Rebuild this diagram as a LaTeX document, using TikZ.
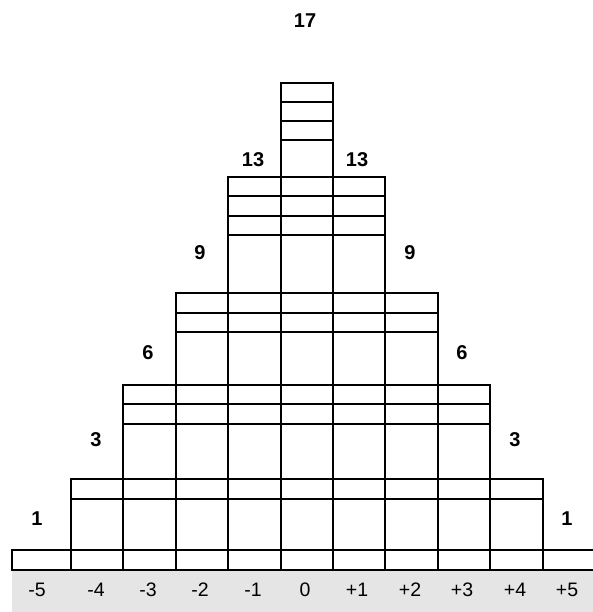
\documentclass[tikz,border=0pt]{standalone}
\usepackage{fontspec}
\setmainfont{Liberation Sans}
\begin{document}
\begin{tikzpicture}[x=1pt,y=-1pt,
  grid/.style={draw=black,line width=2.2pt},
  axislbl/.style={font=\fontsize{19.5}{22}\selectfont,inner sep=0pt,anchor=center},
  cnt/.style={font=\fontsize{20}{23}\selectfont\bfseries,inner sep=0pt,anchor=center}]
\useasboundingbox (0,0) rectangle (593,612);
% gray axis band
\fill[gray!20] (12,570) rectangle (600,612);
% bottom strip
\draw[grid] (12,550) rectangle (600,570);
\foreach \x in {70.7,123,176,228,280.6,333,385,437.6,490,542.7}
  \draw[grid] (\x,550) -- (\x,570);
% level 1
\draw[grid] (70.7,479) rectangle (542.7,550);
\draw[grid] (70.7,499) -- (542.7,499);
\foreach \x in {123,176,228,280.6,333,385,437.6,490}
  \draw[grid] (\x,479) -- (\x,550);
% level 2
\draw[grid] (123,385) rectangle (490,479);
\foreach \y in {404,424} \draw[grid] (123,\y) -- (490,\y);
\foreach \x in {176,228,280.6,333,385,437.6}
  \draw[grid] (\x,385) -- (\x,479);
% level 3
\draw[grid] (176,293) rectangle (437.6,385);
\foreach \y in {313,332} \draw[grid] (176,\y) -- (437.6,\y);
\foreach \x in {228,280.6,333,385}
  \draw[grid] (\x,293) -- (\x,385);
% level 4
\draw[grid] (228,176.7) rectangle (385,293);
\foreach \y in {196,215.7,235} \draw[grid] (228,\y) -- (385,\y);
\foreach \x in {280.6,333}
  \draw[grid] (\x,176.7) -- (\x,293);
% level 5
\draw[grid] (280.6,82.7) rectangle (333,176.7);
\foreach \y in {101.7,121,140} \draw[grid] (280.6,\y) -- (333,\y);
% axis labels
\node[axislbl] (am5) at (37,590) {-5};
\node[axislbl] (am4) at (96,590) {-4};
\node[axislbl] (am3) at (148,590) {-3};
\node[axislbl] (am2) at (200,590) {-2};
\node[axislbl] (am1) at (253,590) {-1};
\node[axislbl] (a0) at (305,590) {0};
\node[axislbl] (ap1) at (357,590) {+1};
\node[axislbl] (ap2) at (410,590) {+2};
\node[axislbl] (ap3) at (462,590) {+3};
\node[axislbl] (ap4) at (515,590) {+4};
\node[axislbl] (ap5) at (567,590) {+5};
% counts
\node[cnt] (c1l) at (37,519) {1};
\node[cnt] (c1r) at (567,519) {1};
\node[cnt] (c3l) at (96,440) {3};
\node[cnt] (c3r) at (515,440) {3};
\node[cnt] (c6l) at (148,353) {6};
\node[cnt] (c6r) at (462,353) {6};
\node[cnt] (c9l) at (200,253) {9};
\node[cnt] (c9r) at (410,253) {9};
\node[cnt] (c13l) at (253,160) {13};
\node[cnt] (c13r) at (357,160) {13};
\node[cnt] (c17) at (305,21) {17};
\end{tikzpicture}
\end{document}
